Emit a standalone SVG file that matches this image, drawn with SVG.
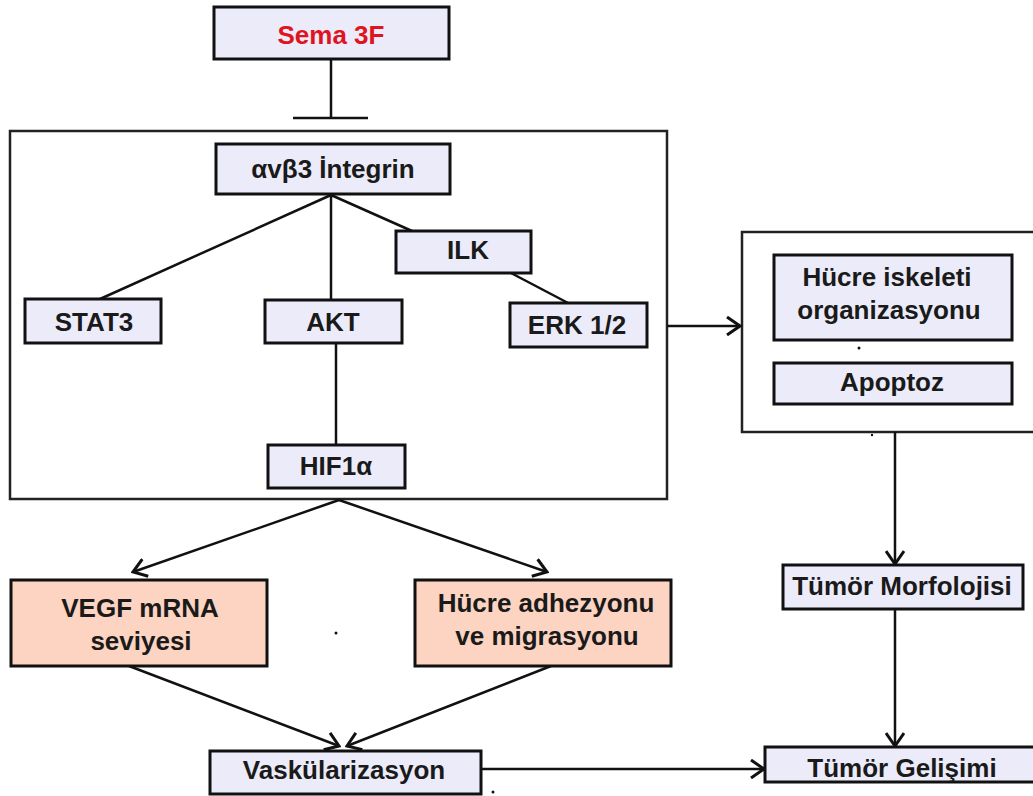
<svg xmlns="http://www.w3.org/2000/svg" width="1033" height="796" viewBox="0 0 1033 796">
<style>
.box{fill:#EBEBF9;stroke:#111;stroke-width:3}
.pink{fill:#FDD3C2;stroke:#111;stroke-width:3}
.frame{fill:none;stroke:#222;stroke-width:2.5}
.t{font-family:"Liberation Sans",Arial,sans-serif;font-weight:bold;font-size:26px;fill:#1a1a1a;text-anchor:middle}
.ln{fill:none;stroke:#111;stroke-width:2.5}
.ar{fill:none;stroke:#111;stroke-width:2.5;marker-end:url(#arr)}
</style>
<defs>
<marker id="arr" markerUnits="userSpaceOnUse" markerWidth="16" markerHeight="20" refX="14" refY="10" orient="auto" viewBox="0 0 16 20">
<path d="M1,1 L14,10 L1,19" fill="none" stroke="#111" stroke-width="3"/>
</marker>
</defs>
<rect x="10" y="131" width="657" height="368" class="frame"/>
<rect x="742" y="232" width="300" height="200" class="frame"/>
<g id="connectors">
<line x1="331" y1="59" x2="331" y2="118" class="ln"/>
<line x1="293" y1="118" x2="368" y2="118" class="ln"/>
<line x1="331" y1="195" x2="100" y2="299" class="ln"/>
<line x1="331" y1="195" x2="331" y2="300" class="ln"/>
<line x1="331" y1="195" x2="412" y2="231" class="ln"/>
<line x1="511" y1="273" x2="570" y2="304" class="ln"/>
<line x1="336" y1="340" x2="336" y2="446" class="ln"/>
<line x1="339" y1="500" x2="133" y2="572" class="ar"/>
<line x1="339" y1="500" x2="547" y2="572" class="ar"/>
<line x1="129" y1="666" x2="339" y2="746" class="ar"/>
<line x1="551" y1="666" x2="347" y2="746" class="ar"/>
<line x1="667" y1="326" x2="740" y2="326" class="ar"/>
<line x1="895" y1="432" x2="895" y2="564" class="ar"/>
<line x1="895" y1="609" x2="895" y2="746" class="ar"/>
<line x1="481" y1="769" x2="764" y2="769" class="ar"/>
</g>
<g id="sema3f"><rect x="214" y="7" width="235" height="52" class="box"/><text x="331" y="44" class="t" style="fill:#E0141E">Sema 3F</text></g>
<g id="integrin"><rect x="216" y="144" width="234" height="50" class="box"/><text x="333" y="178" class="t">αvβ3 İntegrin</text></g>
<g id="ilk"><rect x="396" y="231" width="135" height="42" class="box"/><text x="468" y="259" class="t">ILK</text></g>
<g id="stat3"><rect x="25" y="299" width="136" height="44" class="box"/><text x="94" y="331" class="t">STAT3</text></g>
<g id="akt"><rect x="265" y="300" width="137" height="43" class="box"/><text x="333" y="331" class="t">AKT</text></g>
<g id="erk"><rect x="510" y="303" width="137" height="44" class="box"/><text x="577" y="334" class="t">ERK 1/2</text></g>
<g id="hif1a"><rect x="268" y="445" width="137" height="43" class="box"/><text x="336" y="475" class="t">HIF1α</text></g>
<g id="hucre-iskeleti"><rect x="774" y="255" width="238" height="85" class="box"/><text x="887" y="286" class="t">Hücre iskeleti</text><text x="889" y="319" class="t">organizasyonu</text></g>
<g id="apoptoz"><rect x="774" y="363" width="238" height="41" class="box"/><text x="892" y="391" class="t">Apoptoz</text></g>
<g id="vegf"><rect x="11" y="580" width="256" height="86" class="pink"/><text x="140" y="617" class="t">VEGF mRNA</text><text x="141" y="650" class="t">seviyesi</text></g>
<g id="adhezyon"><rect x="415" y="580" width="256" height="86" class="pink"/><text x="546" y="612" class="t">Hücre adhezyonu</text><text x="547" y="645" class="t">ve migrasyonu</text></g>
<g id="vaskularizasyon"><rect x="210" y="751" width="271" height="43" class="box"/><text x="344" y="779" class="t">Vaskülarizasyon</text></g>
<g id="tumor-morfolojisi"><rect x="783" y="565" width="240" height="44" class="box"/><text x="902" y="595" class="t">Tümör Morfolojisi</text></g>
<g id="tumor-gelisimi"><rect x="765" y="747" width="275" height="35" class="box"/><text x="902" y="777" class="t">Tümör Gelişimi</text></g>
<g id="dots" fill="#111">
<circle cx="336" cy="633" r="1.5"/>
<circle cx="859" cy="348" r="1.5"/>
<circle cx="493" cy="792" r="1.5"/>
<circle cx="872" cy="435" r="1.2"/>
</g>
</svg>
